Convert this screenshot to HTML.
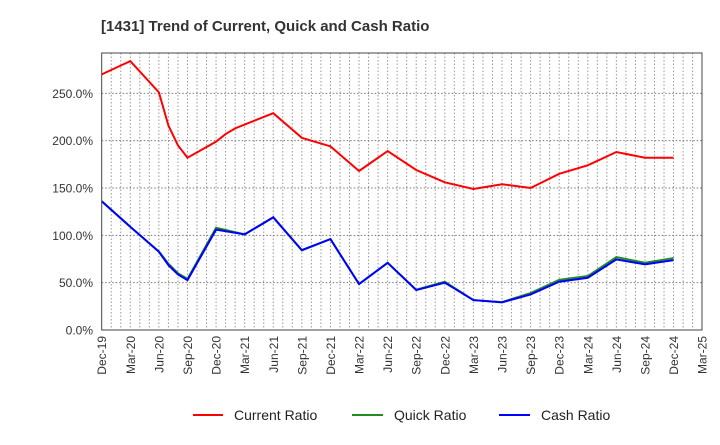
<!DOCTYPE html>
<html><head><meta charset="utf-8"><style>
body{margin:0;background:#fff;width:720px;height:440px;overflow:hidden;font-family:"Liberation Sans",sans-serif}
</style></head><body>
<svg id="chart" width="720" height="440" xmlns="http://www.w3.org/2000/svg" font-family="Liberation Sans, sans-serif">
<text x="101" y="31" font-size="15" font-weight="bold" fill="#333">[1431]  Trend of Current, Quick and Cash Ratio</text>
<g id="grid"></g>
<g id="series"></g>
<rect x="101.7" y="53" width="600.3" height="277" fill="none" stroke="#444" stroke-width="1"/>
<g id="ylabels"></g>
<g id="xlabels"></g>
<g font-size="14" fill="#222">
<line x1="193" y1="415" x2="223" y2="415" stroke="#f00" stroke-width="2"/>
<text x="234" y="420">Current Ratio</text>
<line x1="352" y1="415" x2="383" y2="415" stroke="#228b22" stroke-width="2"/>
<text x="394" y="420">Quick Ratio</text>
<line x1="499" y1="415" x2="530" y2="415" stroke="#00f" stroke-width="2"/>
<text x="541" y="420">Cash Ratio</text>
</g>
</svg>
<script>
const xTickLabels=["Dec-19","Mar-20","Jun-20","Sep-20","Dec-20","Mar-21","Jun-21","Sep-21","Dec-21","Mar-22","Jun-22","Sep-22","Dec-22","Mar-23","Jun-23","Sep-23","Dec-23","Mar-24","Jun-24","Sep-24","Dec-24","Mar-25"];
const yTicks=[0,50,100,150,200,250];
const currentMonths=[0,3,6,7,8,9,12,13,14,18,21,24,27,30,33,36,39,42,45,48,51,54,57,60];
const currentValues=[270,284,251,216,195,182,199,207,213,229,203,194,168,189,169,156,149,154,150,165,174,188,182,182];
const cashMonths=[0,3,6,7,8,9,12,15,18,21,24,27,30,33,36,39,42,45,48,51,54,57,60];
const quickValues=[136,109,83,70,60,54,108,101,119,84,96,48.5,71,42.5,51,31.6,29.5,39,53,57,77,71,76];
const cashValues=[136,109,82.6,68.6,58.7,52.7,106,101,119,84.4,96,48.5,71,42.2,50,31.6,29.2,37.6,51,55.2,74.6,69.3,73.8];
const NS="http://www.w3.org/2000/svg";
const x=m=>101.7+m*9.531;
const y=v=>330-v*0.9467;
const grid=document.getElementById('grid');
for(let m=1;m<63;m++){const l=document.createElementNS(NS,'line');


l.setAttribute('x1',x(m));l.setAttribute('x2',x(m));l.setAttribute('y1',53);l.setAttribute('y2',330);
l.setAttribute('stroke','#999');l.setAttribute('stroke-dasharray','1.5,2');grid.appendChild(l);}
const yl=document.getElementById('ylabels');
yTicks.forEach(v=>{if(v>0){const l=document.createElementNS(NS,'line');


l.setAttribute('x1',101.7);l.setAttribute('x2',702);l.setAttribute('y1',y(v));l.setAttribute('y2',y(v));
l.setAttribute('stroke','#777');l.setAttribute('stroke-dasharray','1.5,2');grid.appendChild(l);}
const t=document.createElementNS(NS,'text');


t.setAttribute('x',93);t.setAttribute('y',y(v)+4.5);t.setAttribute('text-anchor','end');t.setAttribute('font-size','12');t.setAttribute('fill','#333');
t.textContent=v.toFixed(1)+'%';yl.appendChild(t);});
const xl=document.getElementById('xlabels');
xTickLabels.forEach((s,i)=>{const t=document.createElementNS(NS,'text');


const px=x(i*3)+4.5;
t.setAttribute('transform','translate('+px+',336) rotate(-90)');t.setAttribute('text-anchor','end');t.setAttribute('font-size','12');t.setAttribute('fill','#333');
t.textContent=s;xl.appendChild(t);});
const ser=document.getElementById('series');
function line(ms,vs,c,name){const p=document.createElementNS(NS,'polyline');


p.setAttribute('points',ms.map((m,i)=>x(m)+','+y(vs[i])).join(' '));
p.setAttribute('fill','none');p.setAttribute('stroke',c);p.setAttribute('stroke-width','2');ser.appendChild(p);}
line(currentMonths,currentValues,'#f00','current-ratio-line');
line(cashMonths,quickValues,'#228b22','quick-ratio-line');
line(cashMonths,cashValues,'#00f','cash-ratio-line');
</script>
</body></html>
